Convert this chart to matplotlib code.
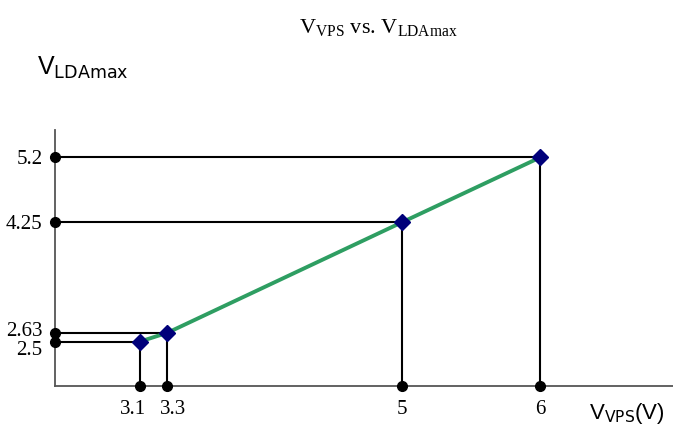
"""
V_VPS vs. V_LDAmax 关系图
"""

import matplotlib
matplotlib.use('Agg')
import matplotlib.pyplot as plt
import matplotlib.transforms as mtransforms

plt.rcParams['font.family'] = ['Liberation Serif', 'DejaVu Serif']
plt.rcParams['mathtext.fontset'] = 'custom'
plt.rcParams['mathtext.rm'] = 'Liberation Serif'
plt.rcParams['mathtext.it'] = 'Liberation Serif:italic'

# 数据
v_vps = [3.1, 3.3, 5, 6]
v_ldamax = [2.5, 2.63, 4.25, 5.2]
x_tick_labels = ['3.1', '3.3', '5', '6']
y_tick_labels = ['2.5', '2.63', '4.25', '5.2']

X_MIN, X_MAX = 2.486, 6.96
Y_MIN, Y_MAX = 1.85, 5.6

fig = plt.figure(figsize=(6.73, 4.28), dpi=100)
ax = fig.add_axes([55 / 673, 42 / 428, 618 / 673, 256 / 428])
ax.set_xlim(X_MIN, X_MAX)
ax.set_ylim(Y_MIN, Y_MAX)

# 坐标轴样式
for side in ['top', 'right']:
    ax.spines[side].set_visible(False)
for side in ['left', 'bottom']:
    ax.spines[side].set_color('#555555')
    ax.spines[side].set_linewidth(1.3)

# 辅助线：从坐标轴到数据点
for x, y in zip(v_vps, v_ldamax):
    ax.plot([X_MIN, x], [y, y], color='black', lw=1.5, zorder=2, solid_capstyle='butt')
    ax.plot([x, x], [Y_MIN, y], color='black', lw=1.5, zorder=2, solid_capstyle='butt')

# 坐标轴上的圆点
ax.plot(v_vps, [Y_MIN] * len(v_vps), 'o', color='black', ms=7, clip_on=False, zorder=5)
ax.plot([X_MIN] * len(v_ldamax), v_ldamax, 'o', color='black', ms=7, clip_on=False, zorder=5)

# 曲线与数据点
ax.plot(v_vps, v_ldamax, color='#2e9e62', lw=2.8, zorder=3)
ax.plot(v_vps, v_ldamax, 'D', color='#00007a', ms=8, zorder=4)

# 刻度
ax.set_xticks(v_vps)
ax.set_xticklabels(x_tick_labels, fontsize=15)
ax.set_yticks(v_ldamax)
ax.set_yticklabels(y_tick_labels, fontsize=15)
ax.tick_params(axis='y', length=0, pad=9)
ax.tick_params(axis='x', length=0, pad=10)


def nudge(label, dx, dy):
    """把刻度标签平移 dx, dy 像素"""
    label.set_transform(label.get_transform() +
                        mtransforms.ScaledTranslation(dx / 100, dy / 100, fig.dpi_scale_trans))


# 靠得太近的标签稍微错开
y_shift = {'2.5': -6, '2.63': 4}
x_shift = {'3.1': -7, '3.3': 6}
for lab in ax.get_yticklabels():
    if lab.get_text() in y_shift:
        nudge(lab, 0, y_shift[lab.get_text()])
for lab in ax.get_xticklabels():
    if lab.get_text() in x_shift:
        nudge(lab, x_shift[lab.get_text()], 0)

# 标题和坐标轴名称
fig.text(378 / 673, 1 - 28 / 428, r'V$_{\mathrm{VPS}}$ vs. V$_{\mathrm{LDAmax}}$',
         ha='center', va='center', fontsize=16)
fig.text(37 / 673, 1 - 68 / 428, r'V$_{\mathrm{LDAmax}}$', ha='left', va='center',
         fontsize=18, family='Liberation Sans', math_fontfamily='dejavusans')
fig.text(589 / 673, 1 - 413 / 428, r'V$_{\mathrm{VPS}}$(V)', ha='left', va='center',
         fontsize=16, family='Liberation Sans', math_fontfamily='dejavusans')

fig.savefig('out.png', dpi=100, facecolor='white')
